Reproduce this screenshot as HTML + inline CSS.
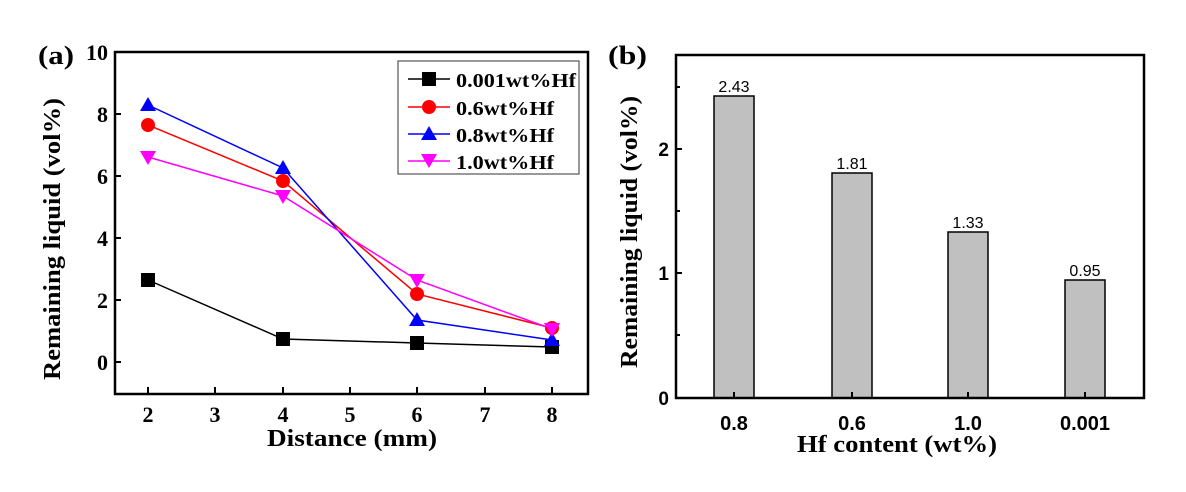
<!DOCTYPE html>
<html><head><style>body{margin:0;background:#fff}svg{display:block}</style></head><body>
<svg width="1186" height="492" xmlns="http://www.w3.org/2000/svg">
<g font-family="Liberation Serif, serif" font-weight="bold" fill="#000">
<!-- Panel a -->
<text x="38" y="64" font-size="26" textLength="36" lengthAdjust="spacingAndGlyphs">(a)</text>
<rect x="115" y="52" width="473" height="342" fill="none" stroke="#000" stroke-width="2.5"/>
<g font-size="22" text-anchor="end">
<text x="108" y="60">10</text><text x="108" y="122">8</text><text x="108" y="184">6</text>
<text x="108" y="246">4</text><text x="108" y="308">2</text><text x="108" y="370">0</text>
</g>
<g stroke="#000" stroke-width="2">
<line x1="115" y1="114" x2="121" y2="114"/><line x1="115" y1="176" x2="121" y2="176"/>
<line x1="115" y1="238" x2="121" y2="238"/><line x1="115" y1="300" x2="121" y2="300"/>
<line x1="115" y1="362" x2="121" y2="362"/>
<line x1="148" y1="394" x2="148" y2="387"/><line x1="215" y1="394" x2="215" y2="387"/>
<line x1="283" y1="394" x2="283" y2="387"/><line x1="350" y1="394" x2="350" y2="387"/>
<line x1="417" y1="394" x2="417" y2="387"/><line x1="485" y1="394" x2="485" y2="387"/>
<line x1="552" y1="394" x2="552" y2="387"/>
</g>
<g font-size="22" text-anchor="middle">
<text x="148" y="422">2</text><text x="215" y="422">3</text><text x="283" y="422">4</text>
<text x="350" y="422">5</text><text x="417" y="422">6</text><text x="485" y="422">7</text><text x="552" y="422">8</text>
</g>
<text x="267" y="446" font-size="24" textLength="170" lengthAdjust="spacingAndGlyphs">Distance (mm)</text>
<text transform="translate(60,380) rotate(-90)" font-size="24" textLength="282" lengthAdjust="spacingAndGlyphs">Remaining liquid (vol%)</text>
<!-- series -->
<polyline points="148,280 283,339 417,343 552,347" fill="none" stroke="#000" stroke-width="1.5"/>
<polyline points="148,125 283,181 417,294 552,328" fill="none" stroke="#f00" stroke-width="1.5"/>
<polyline points="148,105 283,168 417,320 552,340" fill="none" stroke="#00f" stroke-width="1.5"/>
<polyline points="148,157 283,196 417,280 552,329" fill="none" stroke="#f0f" stroke-width="1.5"/>
<g fill="#000"><rect x="141" y="273" width="14" height="14"/><rect x="276" y="332" width="14" height="14"/><rect x="410" y="336" width="14" height="14"/><rect x="545" y="340" width="14" height="14"/></g>
<g fill="#f00"><circle cx="148" cy="125" r="7"/><circle cx="283" cy="181" r="7"/><circle cx="417" cy="294" r="7"/><circle cx="552" cy="328" r="7"/></g>
<g fill="#00f"><path d="M148,97 l8,14 h-16z"/><path d="M283,160 l8,14 h-16z"/><path d="M417,312 l8,14 h-16z"/><path d="M552,332 l8,14 h-16z"/></g>
<g fill="#f0f"><path d="M148,165 l8,-14 h-16z"/><path d="M283,204 l8,-14 h-16z"/><path d="M417,288 l8,-14 h-16z"/><path d="M552,337 l8,-14 h-16z"/></g>
<!-- legend -->
<rect x="398" y="61" width="181" height="113" fill="#fff" stroke="#555" stroke-width="1.2"/>
<g stroke-width="1.5">
<line x1="408" y1="79" x2="450" y2="79" stroke="#000"/><line x1="408" y1="107" x2="450" y2="107" stroke="#f00"/>
<line x1="408" y1="134" x2="450" y2="134" stroke="#00f"/><line x1="408" y1="161" x2="450" y2="161" stroke="#f0f"/>
</g>
<rect x="422" y="72" width="14" height="14" fill="#000"/>
<circle cx="429" cy="107" r="7" fill="#f00"/>
<path d="M429,126 l8,14 h-16z" fill="#00f"/>
<path d="M429,168 l8,-14 h-16z" fill="#f0f"/>
<g font-size="20"><text x="456" y="87" textLength="120" lengthAdjust="spacingAndGlyphs">0.001wt%Hf</text><text x="456" y="115" textLength="98" lengthAdjust="spacingAndGlyphs">0.6wt%Hf</text><text x="456" y="142" textLength="98" lengthAdjust="spacingAndGlyphs">0.8wt%Hf</text><text x="456" y="169" textLength="98" lengthAdjust="spacingAndGlyphs">1.0wt%Hf</text></g>

<!-- Panel b -->
<text x="608" y="64" font-size="26" textLength="39" lengthAdjust="spacingAndGlyphs">(b)</text>
<g fill="#c0c0c0" stroke="#000" stroke-width="1.5">
<rect x="714" y="96" width="40" height="302"/><rect x="832" y="173" width="40" height="225"/>
<rect x="948" y="232" width="40" height="166"/><rect x="1065" y="280" width="40" height="118"/>
</g>
<rect x="676" y="55" width="468" height="343" fill="none" stroke="#000" stroke-width="2.5"/>
<g stroke="#000" stroke-width="2">
<line x1="676" y1="149" x2="682" y2="149"/><line x1="676" y1="273" x2="682" y2="273"/>
<line x1="676" y1="87" x2="680" y2="87"/><line x1="676" y1="211" x2="680" y2="211"/><line x1="676" y1="335" x2="680" y2="335"/>
<line x1="734" y1="398" x2="734" y2="392"/><line x1="852" y1="398" x2="852" y2="392"/>
<line x1="968" y1="398" x2="968" y2="392"/><line x1="1085" y1="398" x2="1085" y2="392"/>
</g>
<g font-family="Liberation Sans, sans-serif" font-size="19" text-anchor="end">
<text x="669" y="156">2</text><text x="669" y="280">1</text><text x="669" y="405">0</text>
</g>
<g font-family="Liberation Sans, sans-serif" font-size="20" text-anchor="middle">
<text x="734" y="430">0.8</text><text x="852" y="430">0.6</text><text x="968" y="430">1.0</text><text x="1085" y="430">0.001</text>
</g>
<g font-family="Liberation Sans, sans-serif" font-weight="normal" font-size="16" text-anchor="middle">
<text x="734" y="92">2.43</text><text x="852" y="169">1.81</text><text x="968" y="228">1.33</text><text x="1085" y="276">0.95</text>
</g>
<text x="797" y="452" font-size="24" textLength="200" lengthAdjust="spacingAndGlyphs">Hf content (wt%)</text>
<text transform="translate(637,368) rotate(-90)" font-size="24" textLength="272" lengthAdjust="spacingAndGlyphs">Remaining liquid (vol%)</text>
</g>
</svg>
</body></html>
